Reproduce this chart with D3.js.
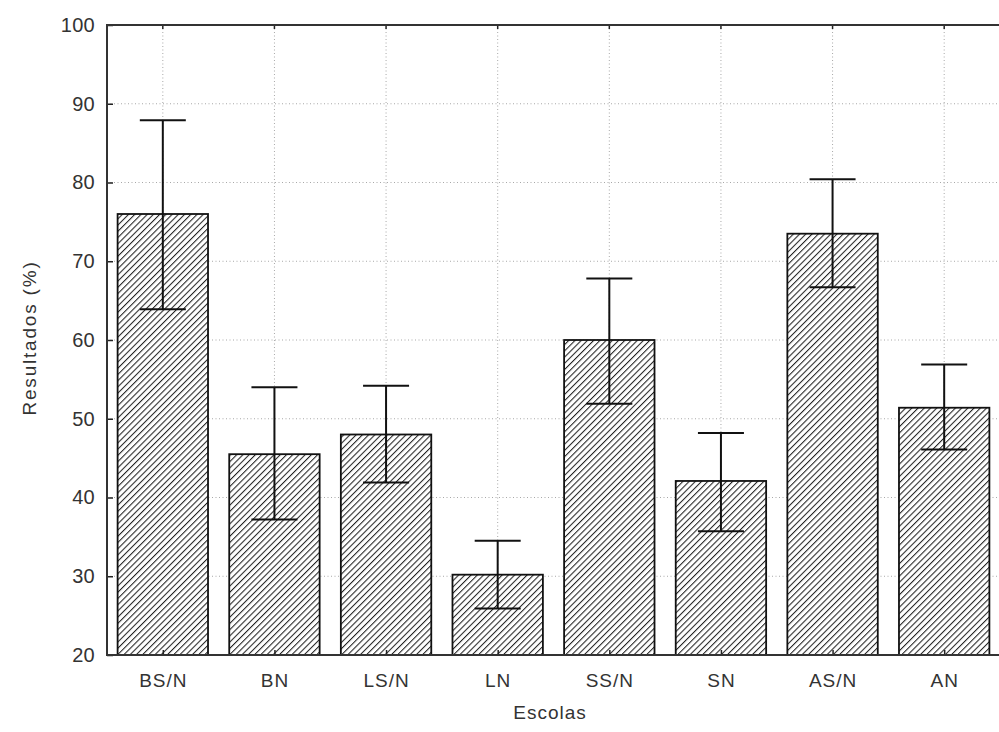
<!DOCTYPE html>
<html>
<head>
<meta charset="utf-8">
<script src="https://cdn.jsdelivr.net/npm/d3@7"></script>
<style>
  html, body { margin: 0; padding: 0; background: #fff; }
  svg { display: block; }
  text { font-family: "Liberation Sans", Arial, sans-serif; fill: #333; }
</style>
</head>
<body>
<svg id="chart" width="999" height="732"></svg>
<script>
// School groups and their mean results with lower/upper error limits (%)
const categories = ["BS/N", "BN", "LS/N", "LN", "SS/N", "SN", "AS/N", "AN"];
const means      = [76.0, 45.5, 48.0, 30.2, 60.0, 42.1, 73.5, 51.4];
const lowers     = [63.9, 37.2, 41.9, 25.9, 51.9, 35.7, 66.7, 46.1];
const uppers     = [87.9, 54.0, 54.2, 34.5, 67.8, 48.2, 80.4, 56.9];
const yTicks     = [20, 30, 40, 50, 60, 70, 80, 90, 100];

const rows = categories.map((c, i) => ({ cat: c, mean: means[i], lo: lowers[i], hi: uppers[i] }));

const svg = d3.select("#chart");
const margin = { left: 107, top: 25, right: 0, bottom: 77 };
const W = 1000, H = 732;
const innerRight = W - margin.right;
const innerBottom = H - margin.bottom;

const x = d3.scaleBand().domain(categories).range([margin.left, innerRight]).paddingInner(0.19).paddingOuter(0.095);
const xc = d3.scalePoint().domain(categories).range([margin.left, innerRight]).padding(0.5);
const y = d3.scaleLinear().domain([20, 100]).range([innerBottom, margin.top]);

// hatch fill
const defs = svg.append("defs");
const pat = defs.append("pattern")
  .attr("id", "hatch")
  .attr("patternUnits", "userSpaceOnUse")
  .attr("width", 4.4).attr("height", 4.4)
  .attr("patternTransform", "rotate(45)");
pat.append("rect").attr("width", 4.4).attr("height", 4.4).attr("fill", "#fff");
pat.append("line").attr("x1", 0).attr("y1", 0).attr("x2", 0).attr("y2", 4.4)
  .attr("stroke", "#222").attr("stroke-width", 2.1);

// grid lines
const grid = svg.append("g");
grid.selectAll("line.h").data(yTicks.filter(t => t > 20 && t < 100)).join("line")
  .attr("x1", margin.left).attr("x2", innerRight)
  .attr("y1", d => y(d)).attr("y2", d => y(d))
  .attr("stroke", "#a8a8a8").attr("stroke-width", 1).attr("stroke-dasharray", "1,2.5");
grid.selectAll("line.v").data(categories).join("line")
  .attr("x1", d => xc(d)).attr("x2", d => xc(d))
  .attr("y1", margin.top).attr("y2", innerBottom)
  .attr("stroke", "#a8a8a8").attr("stroke-width", 1).attr("stroke-dasharray", "1,2.5");

// bars
svg.append("g").selectAll("rect").data(rows).join("rect")
  .attr("x", d => x(d.cat))
  .attr("y", d => y(d.mean))
  .attr("width", x.bandwidth())
  .attr("height", d => y(20) - y(d.mean))
  .attr("fill", "url(#hatch)")
  .attr("stroke", "#111").attr("stroke-width", 1.8);

// error bars
const eb = svg.append("g").attr("stroke", "#111").attr("stroke-width", 2);
const capW = 23;
eb.selectAll("line.stem").data(rows).join("line")
  .attr("x1", d => xc(d.cat)).attr("x2", d => xc(d.cat))
  .attr("y1", d => y(d.lo)).attr("y2", d => y(d.hi));
eb.selectAll("line.top").data(rows).join("line")
  .attr("x1", d => xc(d.cat) - capW).attr("x2", d => xc(d.cat) + capW)
  .attr("y1", d => y(d.hi)).attr("y2", d => y(d.hi));
eb.selectAll("line.bot").data(rows).join("line")
  .attr("x1", d => xc(d.cat) - capW).attr("x2", d => xc(d.cat) + capW)
  .attr("y1", d => y(d.lo)).attr("y2", d => y(d.lo));

// axes
const yAxis = d3.axisLeft(y).tickValues(yTicks).tickSize(-6).tickPadding(12);
const gy = svg.append("g").attr("transform", `translate(${margin.left},0)`).call(yAxis);
gy.select(".domain").remove();
gy.selectAll(".tick line").attr("stroke", "#222").attr("stroke-width", 1.5);
gy.selectAll("text").attr("font-size", 20).attr("fill", "#333")
  .attr("font-family", "Liberation Sans, Arial, sans-serif").attr("letter-spacing", 0.3);

const xAxis = d3.axisBottom(xc).tickSize(-5).tickPadding(19);
const gx = svg.append("g").attr("transform", `translate(0,${innerBottom})`).call(xAxis);
gx.select(".domain").remove();
gx.selectAll(".tick line").attr("stroke", "#222").attr("stroke-width", 1.5);
gx.selectAll("text").attr("font-size", 19).attr("fill", "#333")
  .attr("font-family", "Liberation Sans, Arial, sans-serif").attr("letter-spacing", 1);

// top tick marks
svg.append("g").selectAll("line").data(categories).join("line")
  .attr("x1", d => xc(d)).attr("x2", d => xc(d))
  .attr("y1", margin.top).attr("y2", margin.top + 4)
  .attr("stroke", "#222").attr("stroke-width", 1.5);

// frame
svg.append("rect")
  .attr("x", margin.left).attr("y", margin.top)
  .attr("width", innerRight - margin.left).attr("height", innerBottom - margin.top)
  .attr("fill", "none").attr("stroke", "#333").attr("stroke-width", 2);

// axis titles
svg.append("text")
  .attr("transform", `translate(36,338) rotate(-90)`)
  .attr("text-anchor", "middle").attr("font-size", 19).attr("letter-spacing", 1.8)
  .text("Resultados (%)");
svg.append("text")
  .attr("x", 550).attr("y", 719)
  .attr("text-anchor", "middle").attr("font-size", 19).attr("letter-spacing", 1)
  .text("Escolas");
</script>
</body>
</html>
